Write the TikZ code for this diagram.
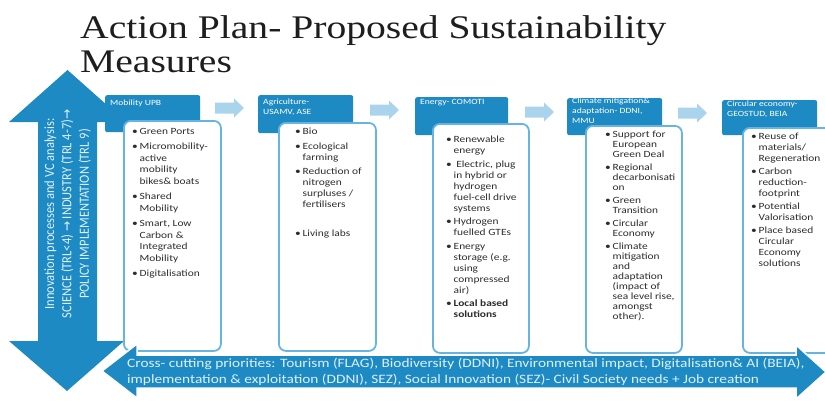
\documentclass[tikz,border=0pt]{standalone}
\usepackage{fontspec}
\setmainfont{Carlito}
\newfontfamily\bodyfont[FakeStretch=1.2]{Carlito}
\newfontfamily\titlefont[FakeStretch=1.2]{Liberation Serif}
\newfontfamily\symfont{DejaVu Sans}
\definecolor{mainblue}{RGB}{30,138,195}
\definecolor{lightarr}{RGB}{170,212,236}
\definecolor{boxborder}{RGB}{104,180,224}
\definecolor{paletext}{RGB}{222,240,250}
\definecolor{bodytext}{RGB}{45,45,45}
\definecolor{titletext}{RGB}{30,30,30}
\newcommand{\bl}{\makebox[7.5pt][l]{•}}
\newcommand{\ct}{\hspace*{7.5pt}}
\newcommand{\rarr}{{\symfont\fontsize{12}{12}\selectfont →}}
\tikzset{
  headbox/.style={fill=mainblue, rounded corners=2pt, inner sep=0pt, anchor=north west},
  listbox/.style={fill=white, draw=boxborder, line width=1.8pt, rounded corners=7pt, inner sep=0pt, anchor=north west},
  headtext/.style={anchor=north west, inner sep=0pt, align=left, text=white, font=\bodyfont\fontsize{8}{10}\selectfont},
  listtext/.style={anchor=north west, inner sep=0pt, align=left, text=bodytext},
  bigarrow/.style={fill=mainblue},
  smallarrow/.style={fill=lightarr},
  titlestyle/.style={anchor=base west, inner sep=0pt, text=titletext, font=\titlefont\fontsize{33}{36}\selectfont},
}
\begin{document}
\begin{tikzpicture}[x=1pt,y=-1pt]
\useasboundingbox (0,0) rectangle (825,400);
\clip (0,0) rectangle (825,400);

% title
\node[titlestyle] (t1) at (80,38) {Action Plan- Proposed Sustainability};
\node[titlestyle] (t2) at (80,72) {Measures};

% vertical double arrow
\fill[bigarrow] (67.5,70) -- (126,122) -- (97,122) -- (97,341) -- (124,341) -- (67,391) -- (9,341) -- (38,341) -- (38,122) -- (9,122) -- cycle;
\node[rotate=90, yscale=1.12, align=center, text=paletext, inner sep=0pt,
      font=\fontsize{12.5}{15.5}\selectfont] (vtext) at (67.5,214)
  {Innovation processes and VC analysis:\\
   SCIENCE (TRL<4) \rarr{} INDUSTRY (TRL 4-7)\rarr\\
   POLICY IMPLEMENTATION (TRL 9)};

% header boxes
\node[headbox, minimum width=95pt, minimum height=37pt] (h1) at (105,95) {};
\node[headbox, minimum width=95pt, minimum height=38pt] (h2) at (258,95) {};
\node[headbox, minimum width=93pt, minimum height=38pt] (h3) at (415,97) {};
\node[headbox, minimum width=95pt, minimum height=37pt] (h4) at (567,98) {};
\node[headbox, minimum width=95pt, minimum height=35pt] (h5) at (722,100) {};

\node[headtext] (ht1) at (110,100) {Mobility UPB};
\node[headtext] (ht2) at (263,99) {Agriculture-\\USAMV, ASE};
\node[headtext] (ht3) at (420,99) {Energy- COMOTI};
\node[headtext] (ht4) at (572,98) {Climate mitigation\&\\adaptation- DDNI,\\MMU};
\node[headtext] (ht5) at (727,101) {Circular economy-\\GEOSTUD, BEIA};

% small arrows between headers
\foreach \x/\y in {215/108, 370/110, 525/112, 678/113}{
  \fill[smallarrow] (\x,\y-5.5) -- (\x+19,\y-5.5) -- (\x+19,\y-9.5) -- (\x+29,\y) -- (\x+19,\y+9.5) -- (\x+19,\y+5.5) -- (\x,\y+5.5) -- cycle;
}

% list boxes
\node[listbox, minimum width=97pt, minimum height=230pt] (b1) at (123,120) {};
\node[listbox, minimum width=97pt, minimum height=228pt] (b2) at (278,122) {};
\node[listbox, minimum width=96pt, minimum height=229pt] (b3) at (432,123) {};
\node[listbox, minimum width=96pt, minimum height=227pt] (b4) at (585,125) {};
\node[listbox, minimum width=100pt, minimum height=225pt] (b5) at (742,127) {};

\node[listtext, font=\bodyfont\fontsize{9.5}{11.5}\selectfont] (l1) at (132,128)
 {\bl Green Ports\\[4pt]
  \bl Micromobility-\\ \ct active\\ \ct mobility\\ \ct bikes\& boats\\[4pt]
  \bl Shared\\ \ct Mobility\\[4pt]
  \bl Smart, Low\\ \ct Carbon \&\\ \ct Integrated\\ \ct Mobility\\[4pt]
  \bl Digitalisation};

\node[listtext, font=\bodyfont\fontsize{9.5}{11}\selectfont] (l2) at (295,128)
 {\bl Bio\\[3.5pt]
  \bl Ecological\\ \ct farming\\[3.5pt]
  \bl Reduction of\\ \ct nitrogen\\ \ct surpluses /\\ \ct fertilisers\\[3.5pt]
  \mbox{}\\[3.5pt]
  \bl Living labs};

\node[listtext, font=\bodyfont\fontsize{9.5}{11}\selectfont] (l3) at (446,136)
 {\bl Renewable\\ \ct energy\\[2.5pt]
  \bl\ Electric, plug\\ \ct in hybrid or\\ \ct hydrogen\\ \ct fuel-cell drive\\ \ct systems\\[2.5pt]
  \bl Hydrogen\\ \ct fuelled GTEs\\[2.5pt]
  \bl Energy\\ \ct storage (e.g.\\ \ct using\\ \ct compressed\\ \ct air)\\[2.5pt]
  \bl \textbf{Local based}\\ \ct \textbf{solutions}};

\node[listtext, font=\bodyfont\fontsize{9.5}{10}\selectfont] (l4) at (605,131)
 {\bl Support for\\ \ct European\\ \ct Green Deal\\[3pt]
  \bl Regional\\ \ct decarbonisati\\ \ct on\\[3pt]
  \bl Green\\ \ct Transition\\[3pt]
  \bl Circular\\ \ct Economy\\[3pt]
  \bl Climate\\ \ct mitigation\\ \ct and\\ \ct adaptation\\ \ct (impact of\\ \ct sea level rise,\\ \ct amongst\\ \ct other).};

\node[listtext, font=\bodyfont\fontsize{9.5}{11}\selectfont] (l5) at (751,133)
 {\bl Reuse of\\ \ct materials/\\ \ct Regeneration\\[2pt]
  \bl Carbon\\ \ct reduction-\\ \ct footprint\\[2pt]
  \bl Potential\\ \ct Valorisation\\[2pt]
  \bl Place based\\ \ct Circular\\ \ct Economy\\ \ct solutions};

% horizontal double arrow
\fill[bigarrow, draw=white, line width=1.5pt] (102,371) -- (137,344) -- (137,355) -- (796,355) -- (796,345) -- (826,372) -- (796,399) -- (796,388) -- (137,388) -- (137,398) -- cycle;
\node[anchor=west, inner sep=0pt, align=left, text=paletext, font=\bodyfont\fontsize{12.8}{16}\selectfont] (htext) at (127,372)
 {Cross- cutting priorities: Tourism (FLAG), Biodiversity (DDNI), Environmental impact, Digitalisation\& AI (BEIA),\\
  implementation \& exploitation (DDNI), SEZ), Social Innovation (SEZ)- Civil Society needs + Job creation};
\end{tikzpicture}
\end{document}
